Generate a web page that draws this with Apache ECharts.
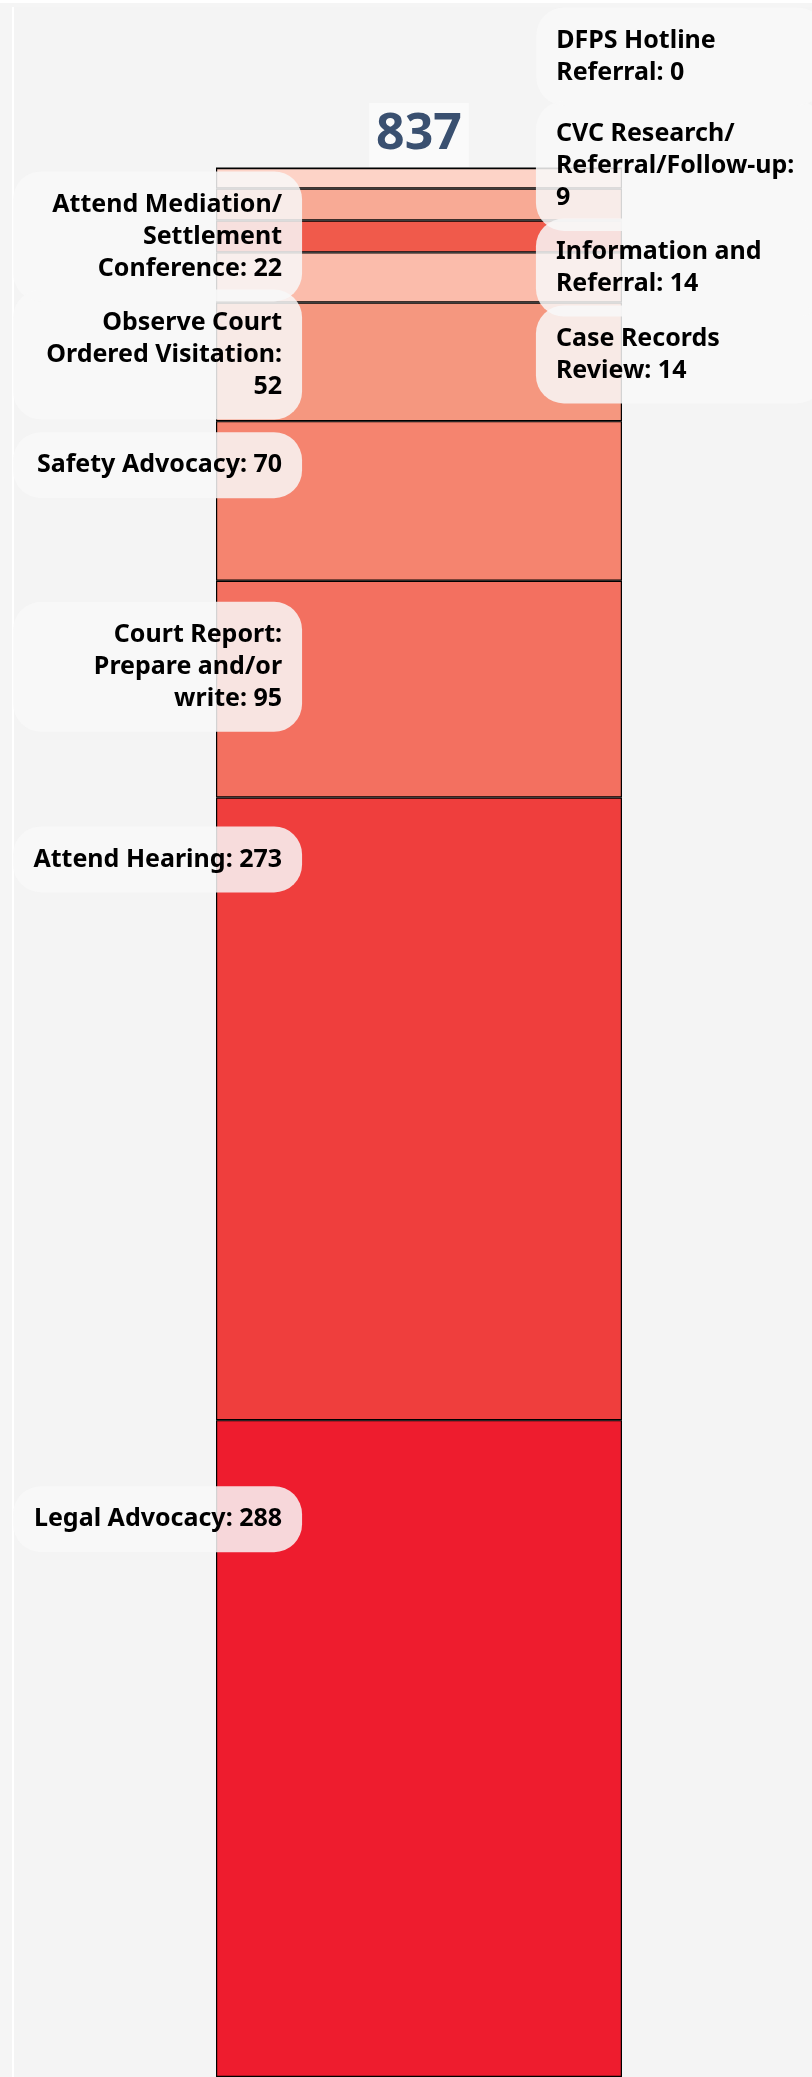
<!DOCTYPE html>
<html>
<head>
<meta charset="utf-8">
<script src="https://cdn.jsdelivr.net/npm/echarts@6/dist/echarts.min.js"></script>
<style>
  html, body { margin: 0; padding: 0; background: #f5f5f5; width: 812px; height: 2077px; overflow: hidden; }
  #topStrip { position: absolute; left: 0; top: 0; width: 812px; height: 3px; background: #fff; }
  #panel { position: absolute; left: 12px; top: 7px; right: 0; bottom: 0; background: #f4f4f4; border-left: 2px solid #fff; }
  #chart { position: absolute; left: 0; top: 0; width: 812px; height: 2077px; }
</style>
</head>
<body>
<div id="topStrip"></div>
<div id="panel"></div>
<div id="chart"></div>
<script>
// stacked from the bottom up
const categories = ['Activities'];
const seriesNames = [
  'Legal Advocacy',
  'Attend Hearing',
  'Court Report: Prepare and/or write',
  'Safety Advocacy',
  'Observe Court Ordered Visitation',
  'Attend Mediation/ Settlement Conference',
  'Case Records Review',
  'Information and Referral',
  'CVC Research/ Referral/Follow-up',
  'DFPS Hotline Referral'
];
const seriesValues = [288, 273, 95, 70, 52, 22, 14, 14, 9, 0];
const seriesColors = ['#ee1c2e', '#ef3e3d', '#f37060', '#f5846f', '#f5977f', '#fbbcab', '#f05a4b', '#f8aa95', '#fdd3c7', '#fdd3c7'];

// where each label sits: side of the bar and offset from the top of its segment
const labelSide = ['left', 'left', 'left', 'left', 'left', 'left', 'right', 'right', 'right', 'right'];
const labelDy = [99, 62, 86, 44, 52, -16, 134, 79, -2, -111];

const total = seriesValues.reduce((a, b) => a + b, 0);

const LABEL_FONT = 'bold 25px "Noto Sans"';
const LABEL_WIDTH = 249;

// word wrap without trailing spaces so right-aligned lines line up
const measureCtx = document.createElement('canvas').getContext('2d');
function wrap(text, maxW) {
  measureCtx.font = LABEL_FONT;
  const words = text.split(' ');
  const lines = [];
  let cur = '';
  words.forEach(w => {
    const test = cur ? cur + ' ' + w : w;
    if (cur && measureCtx.measureText(test).width > maxW) {
      lines.push(cur);
      cur = w;
    } else {
      cur = test;
    }
  });
  lines.push(cur);
  return lines.join('\n');
}

let myChart = echarts.init(document.getElementById('chart'), null, { renderer: 'canvas' });

const series = seriesNames.map((name, i) => {
  const left = labelSide[i] === 'left';
  return {
    name,
    type: 'bar',
    stack: 'total',
    barWidth: '100%',
    data: [seriesValues[i]],
    itemStyle: {
      color: seriesColors[i],
      borderColor: '#000',
      borderWidth: 1.2
    },
    label: {
      show: true,
      position: [left ? '21.2%' : '78.8%', labelDy[i]],
      align: left ? 'right' : 'left',
      verticalAlign: 'middle',
      formatter: p => wrap(p.seriesName + ': ' + p.value, LABEL_WIDTH),
      width: LABEL_WIDTH,
      padding: [17, 20],
      backgroundColor: 'rgba(248,248,248,0.85)',
      borderRadius: 28,
      fontFamily: 'Noto Sans',
      fontSize: 25,
      fontWeight: 'bold',
      lineHeight: 32,
      color: '#000'
    }
  };
});

// empty bar on top only to carry the total
series.push({
  name: 'Total',
  type: 'bar',
  stack: 'total',
  barWidth: '100%',
  data: [0],
  itemStyle: { color: 'transparent', borderWidth: 0 },
  label: {
    show: true,
    position: 'top',
    distance: 1,
    formatter: String(total),
    fontFamily: 'Noto Sans',
    fontSize: 50,
    fontWeight: 'bold',
    lineHeight: 52,
    color: '#3a5070',
    backgroundColor: 'rgba(255,255,255,0.55)',
    padding: [6, 7]
  }
});

let option = {
  animation: false,
  grid: { left: 216, top: 168, width: 406, height: 1918 },
  xAxis: {
    type: 'category',
    data: categories,
    show: false
  },
  yAxis: {
    type: 'value',
    min: 0,
    max: total,
    show: false
  },
  series
};

myChart.setOption(option);
window.addEventListener('resize', () => myChart.resize(), false);
</script>
</body>
</html>
